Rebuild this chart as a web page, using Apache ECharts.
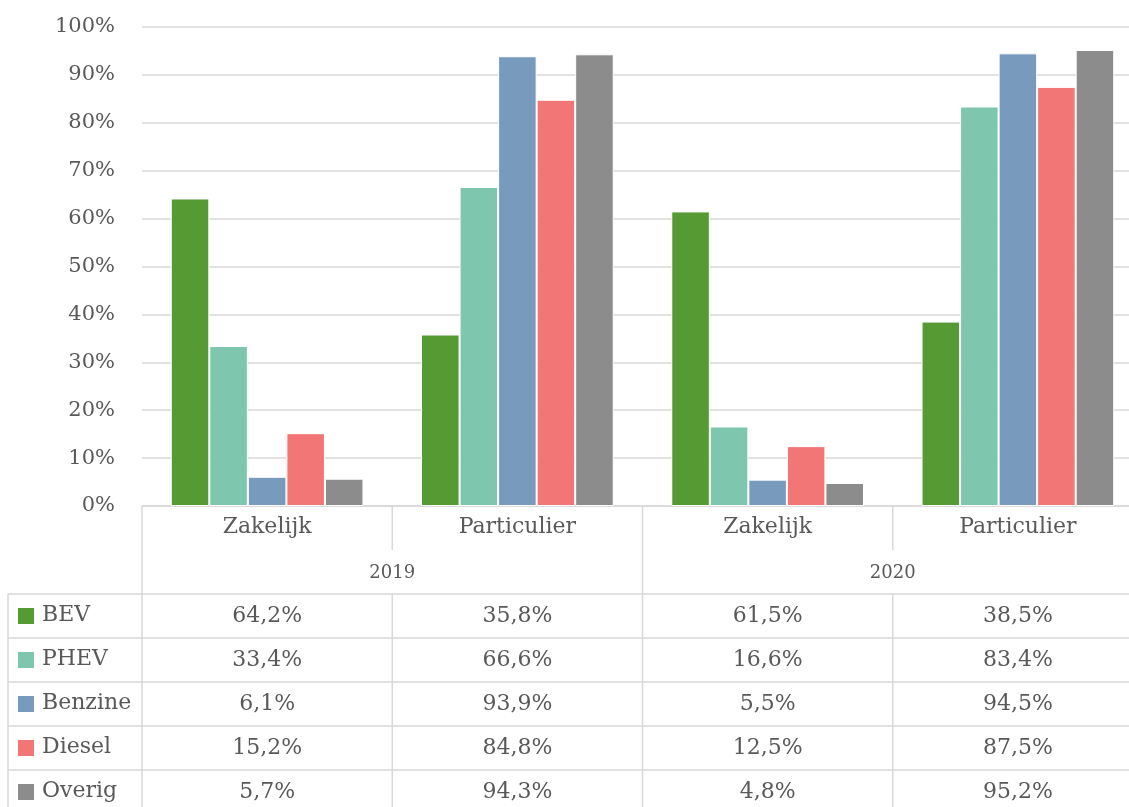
<!DOCTYPE html>
<html>
<head>
<meta charset="utf-8">
<script src="https://cdn.jsdelivr.net/npm/echarts@6/dist/echarts.min.js"></script>
<style>
html,body{margin:0;padding:0;background:#fff;overflow:hidden;}
#chart{width:1129px;height:807px;}
</style>
</head>
<body>
<div id="chart"></div>
<script>
const categories = ['Zakelijk', 'Particulier', 'Zakelijk', 'Particulier'];
const years = ['2019', '2020'];
const seriesNames = ['BEV', 'PHEV', 'Benzine', 'Diesel', 'Overig'];
const BEV = [64.2, 35.8, 61.5, 38.5];
const PHEV = [33.4, 66.6, 16.6, 83.4];
const Benzine = [6.1, 93.9, 5.5, 94.5];
const Diesel = [15.2, 84.8, 12.5, 87.5];
const Overig = [5.7, 94.3, 4.8, 95.2];
const yTicks = [0, 10, 20, 30, 40, 50, 60, 70, 80, 90, 100];

const seriesData = [BEV, PHEV, Benzine, Diesel, Overig];
const colors = ['#559A32', '#7FC6AF', '#789BBD', '#F27676', '#8C8C8C'];
const FONT = '"DejaVu Serif", "Liberation Serif", serif';
const TXT = '#595959';
const LINE = '#d9d9d9';

const chart = echarts.init(document.getElementById('chart'), null, {renderer: 'canvas'});

const option = {
  animation: false,
  backgroundColor: '#fff',
  grid: {left: 142, width: 1001, top: 27, height: 479, containLabel: false, outerBoundsMode: 'none'},
  xAxis: [{
    type: 'category',
    data: categories,
    axisLine: {show: true, lineStyle: {color: LINE, width: 1.5}},
    axisTick: {show: false},
    axisLabel: {color: TXT, fontFamily: FONT, fontSize: 22, margin: 10}
  }, {
    type: 'category',
    data: years,
    position: 'bottom',
    offset: 44,
    axisLine: {show: false},
    axisTick: {show: false},
    axisLabel: {color: TXT, fontFamily: FONT, fontSize: 18, margin: 14}
  }],
  yAxis: {
    type: 'value',
    min: yTicks[0],
    max: yTicks[yTicks.length - 1],
    interval: 10,
    axisLine: {show: false},
    axisTick: {show: false},
    axisLabel: {color: TXT, fontFamily: FONT, fontSize: 21, margin: 27, formatter: '{value}%'},
    splitLine: {lineStyle: {color: LINE, width: 1.5}}
  },
  series: seriesNames.map((name, i) => ({
    name: name,
    type: 'bar',
    xAxisIndex: 0,
    data: seriesData[i],
    barGap: '0%',
    barCategoryGap: '23%',
    itemStyle: {color: colors[i], borderColor: '#ffffff', borderWidth: 1}
  }))
};
chart.setOption(option);

// Build the data table below the chart from the axis positions
function fmt(v) { return v.toFixed(1).replace('.', ',') + '%'; }
const axisY = chart.convertToPixel({yAxisIndex: 0}, 0);
const centers = categories.map((c, i) => chart.convertToPixel({xAxisIndex: 0}, i));
const band = centers[1] - centers[0];
const bounds = [centers[0] - band / 2];
centers.forEach(c => bounds.push(c + band / 2));
const catRowBottom = axisY + 44;
const tableTop = axisY + 88;
const rowH = 44;
const tableLeft = 8;
const W = 1129, H = 807;

const g = [];
function vline(x, y1, y2) {
  g.push({type: 'line', shape: {x1: x, y1: y1, x2: x, y2: y2}, style: {stroke: LINE, lineWidth: 1.5}, silent: true});
}
function hline(y, x1, x2) {
  g.push({type: 'line', shape: {x1: x1, y1: y, x2: x2, y2: y}, style: {stroke: LINE, lineWidth: 1.5}, silent: true});
}
vline(bounds[0], axisY, H);
vline(bounds[2], axisY, H);
vline(bounds[4], axisY, H);
[1, 3].forEach(k => { vline(bounds[k], axisY, catRowBottom); vline(bounds[k], tableTop, H); });
vline(tableLeft, tableTop, H);
for (let r = 0; r <= seriesNames.length; r++) hline(tableTop + r * rowH, tableLeft, W);

seriesNames.forEach((name, r) => {
  const cy = tableTop + r * rowH + rowH / 2;
  g.push({type: 'rect', shape: {x: 18, y: cy - 8, width: 16, height: 16}, style: {fill: colors[r]}, silent: true});
  g.push({type: 'text', x: 42, y: cy - 1, style: {text: name, fill: TXT, font: '22px ' + FONT, verticalAlign: 'middle'}, silent: true});
  seriesData[r].forEach((v, c) => {
    g.push({type: 'text', x: centers[c], y: cy, style: {text: fmt(v), fill: TXT, font: '22px ' + FONT, align: 'center', verticalAlign: 'middle'}, silent: true});
  });
});
chart.setOption({graphic: g});
</script>
</body>
</html>
